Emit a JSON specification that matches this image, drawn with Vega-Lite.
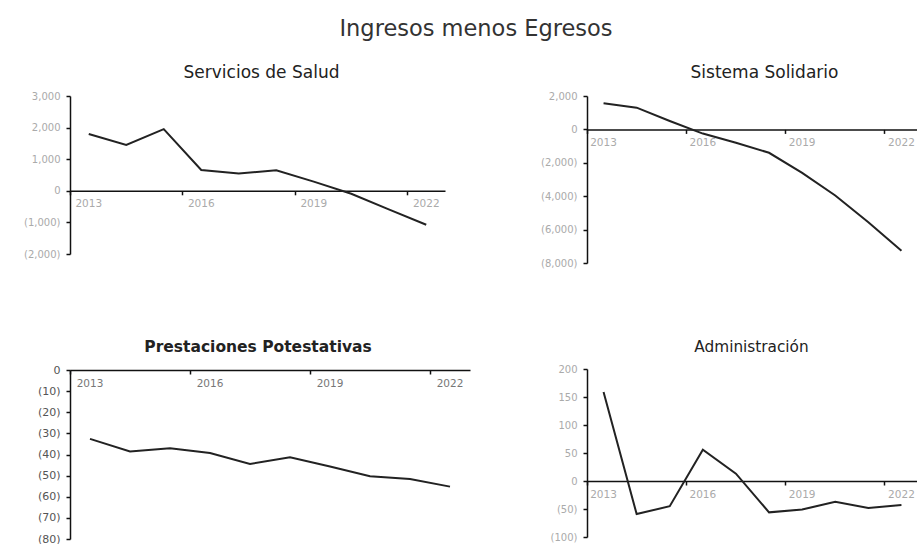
{
  "$schema": "https://vega.github.io/schema/vega-lite/v6.json",
  "background": "white",
  "padding": {"left": 10, "top": 17, "right": 0, "bottom": 0},
  "title": {"text": "Ingresos menos Egresos", "fontSize": 22.5, "font": "DejaVu Sans", "fontWeight": "normal", "color": "#333", "anchor": "middle", "dx": 12, "offset": 24},
  "datasets": {
    "salud": [
      {"year": "2013", "value": 1800}, {"year": "2014", "value": 1450}, {"year": "2015", "value": 1950},
      {"year": "2016", "value": 660}, {"year": "2017", "value": 550}, {"year": "2018", "value": 650},
      {"year": "2019", "value": 290}, {"year": "2020", "value": -95}, {"year": "2021", "value": -590},
      {"year": "2022", "value": -1075}
    ],
    "solidario": [
      {"year": "2013", "value": 1560}, {"year": "2014", "value": 1300}, {"year": "2015", "value": 500},
      {"year": "2016", "value": -250}, {"year": "2017", "value": -800}, {"year": "2018", "value": -1400},
      {"year": "2019", "value": -2600}, {"year": "2020", "value": -3960}, {"year": "2021", "value": -5560},
      {"year": "2022", "value": -7260}
    ],
    "potestativas": [
      {"year": "2013", "value": -32.6}, {"year": "2014", "value": -38.6}, {"year": "2015", "value": -37},
      {"year": "2016", "value": -39.3}, {"year": "2017", "value": -44.5}, {"year": "2018", "value": -41.3},
      {"year": "2019", "value": -45.7}, {"year": "2020", "value": -50.3}, {"year": "2021", "value": -51.6},
      {"year": "2022", "value": -55.2}
    ],
    "admin": [
      {"year": "2013", "value": 159}, {"year": "2014", "value": -59}, {"year": "2015", "value": -45},
      {"year": "2016", "value": 56}, {"year": "2017", "value": 13}, {"year": "2018", "value": -56},
      {"year": "2019", "value": -51}, {"year": "2020", "value": -37}, {"year": "2021", "value": -48},
      {"year": "2022", "value": -43}
    ]
  },
  "config": {
    "view": {"stroke": null},
    "font": "DejaVu Sans",
    "axis": {"grid": false, "domainColor": "#111", "domainWidth": 1.5, "tickColor": "#111", "tickWidth": 1.5, "labelFont": "DejaVu Sans", "labelFontSize": 10, "labelColor": "#aaa", "title": null},
    "axisY": {"tickSize": 4, "labelPadding": 6, "minExtent": 60, "maxExtent": 60},
    "axisX": {"tickSize": 4, "labelPadding": 4, "labelAngle": 0, "labelFontSize": 10.5},
    "title": {"font": "DejaVu Sans", "fontSize": 17, "fontWeight": "normal", "color": "#222", "offset": 9},
    "line": {"color": "#222", "strokeWidth": 2}
  },
  "hconcat": [
    {
      "spacing": 80,
      "vconcat": [
        {
          "title": {"text": "Servicios de Salud", "dx": 4},
          "width": 375, "height": 158,
          "data": {"name": "salud"},
          "mark": "line",
          "encoding": {
            "x": {"field": "year", "type": "ordinal", "scale": {"type": "band", "paddingInner": 0, "paddingOuter": 0},
                  "axis": {"values": ["2013", "2016", "2019", "2022"], "bandPosition": 0, "offset": -63.2, "orient": "bottom"}},
            "y": {"field": "value", "type": "quantitative", "scale": {"domain": [-2000, 3000], "nice": false},
                  "axis": {"values": [-2000, -1000, 0, 1000, 2000, 3000], "labelExpr": "datum.value < 0 ? '(' + format(-datum.value, ',') + ')' : format(datum.value, ',')"}}
          }
        },
        {
          "title": {"text": "Prestaciones Potestativas", "fontWeight": "bold", "fontSize": 15.5, "dx": -12},
          "width": 400, "height": 169,
          "data": {"name": "potestativas"},
          "mark": "line",
          "encoding": {
            "x": {"field": "year", "type": "ordinal", "scale": {"type": "band", "paddingInner": 0, "paddingOuter": 0},
                  "axis": {"values": ["2013", "2016", "2019", "2022"], "bandPosition": 0, "offset": -169, "orient": "bottom", "labelColor": "#777"}},
            "y": {"field": "value", "type": "quantitative", "scale": {"domain": [-80, 0], "nice": false},
                  "axis": {"values": [-80, -70, -60, -50, -40, -30, -20, -10, 0], "labelColor": "#555", "labelFontSize": 11, "labelExpr": "datum.value < 0 ? '(' + format(-datum.value, ',') + ')' : format(datum.value, ',')"}}
          }
        }
      ]
    },
    {
      "spacing": 71,
      "vconcat": [
        {
          "title": {"text": "Sistema Solidario", "dx": 12},
          "width": 331, "height": 167,
          "data": {"name": "solidario"},
          "mark": "line",
          "encoding": {
            "x": {"field": "year", "type": "ordinal", "scale": {"type": "band", "paddingInner": 0, "paddingOuter": 0},
                  "axis": {"values": ["2013", "2016", "2019", "2022"], "bandPosition": 0, "offset": -133.6, "orient": "bottom"}},
            "y": {"field": "value", "type": "quantitative", "scale": {"domain": [-8000, 2000], "nice": false},
                  "axis": {"values": [-8000, -6000, -4000, -2000, 0, 2000], "labelExpr": "datum.value < 0 ? '(' + format(-datum.value, ',') + ')' : format(datum.value, ',')"}}
          }
        },
        {
          "title": {"text": "Administración", "fontSize": 15.3, "dx": -1},
          "width": 331, "height": 168,
          "data": {"name": "admin"},
          "mark": "line",
          "encoding": {
            "x": {"field": "year", "type": "ordinal", "scale": {"type": "band", "paddingInner": 0, "paddingOuter": 0},
                  "axis": {"values": ["2013", "2016", "2019", "2022"], "bandPosition": 0, "offset": -56, "orient": "bottom"}},
            "y": {"field": "value", "type": "quantitative", "scale": {"domain": [-100, 200], "nice": false},
                  "axis": {"values": [-100, -50, 0, 50, 100, 150, 200], "labelExpr": "datum.value < 0 ? '(' + format(-datum.value, ',') + ')' : format(datum.value, ',')"}}
          }
        }
      ]
    }
  ],
  "spacing": 57
}
